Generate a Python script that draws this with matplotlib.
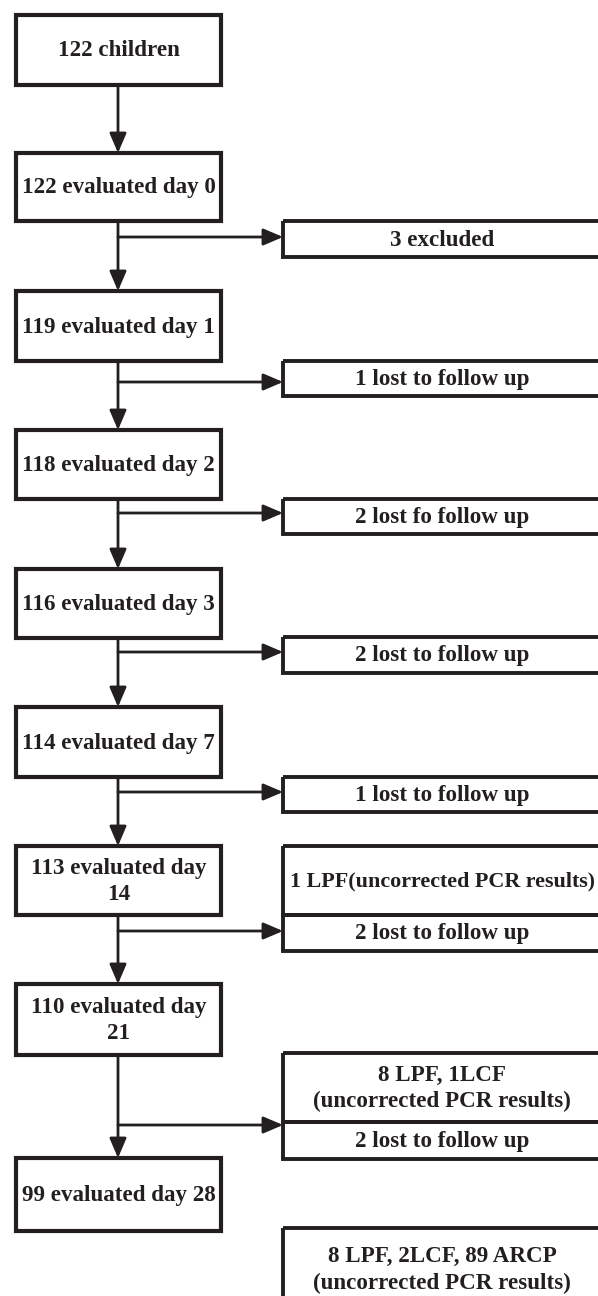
import matplotlib.pyplot as plt
from matplotlib.patches import Rectangle

# flow chart text
main_labels = ['122 children', '122 evaluated day 0', '119 evaluated day 1',
               '118 evaluated day 2', '116 evaluated day 3', '114 evaluated day 7',
               '113 evaluated day\n14', '110 evaluated day\n21', '99 evaluated day 28']
side_labels = ['3 excluded', '1 lost to follow up', '2 lost fo follow up',
               '2 lost to follow up', '1 lost to follow up',
               '1 LPF(uncorrected PCR results)', '2 lost to follow up',
               '8 LPF, 1LCF\n(uncorrected PCR results)', '2 lost to follow up',
               '8 LPF, 2LCF, 89 ARCP\n(uncorrected PCR results)']

# layout (pixel coords, y down)
main_top = [15, 153, 291, 430, 569, 707, 846, 984, 1158]
main_bot = [85, 221, 361, 499, 638, 777, 915, 1055, 1231]
main_x0, main_x1 = 16, 221
side_top = [221, 361, 499, 637, 777, 846, 915, 1053, 1122, 1228]
side_bot = [257, 396, 534, 673, 812, 915, 951, 1122, 1159, 1310]
side_x0, side_x1 = 283, 601
branch_y = [237, 382, 513, 652, 792, 931, 1125]   # one per gap after box 2..8

ink = '#231f20'
plt.rcParams['font.family'] = ['Liberation Serif', 'DejaVu Serif']

fig = plt.figure(figsize=(5.98, 12.96), dpi=100)
ax = fig.add_axes([0, 0, 1, 1])
ax.set_xlim(0, 598)
ax.set_ylim(1296, 0)
ax.axis('off')

def box(x0, x1, y0, y1, text, lw=3.0, fs=16.6):
    ax.add_patch(Rectangle((x0, y0), x1 - x0, y1 - y0, fill=False,
                           edgecolor=ink, lw=lw, clip_on=True))
    ax.text((x0 + x1) / 2, (y0 + y1) / 2 + 1, text, ha='center', va='center',
            fontsize=fs, fontweight='bold', color=ink, linespacing=1.35)

def arrow(x0, y0, x1, y1):
    ax.annotate('', xy=(x1, y1), xytext=(x0, y0),
                arrowprops=dict(arrowstyle='-|>,head_length=0.7,head_width=0.3',
                                lw=2.0, color=ink, shrinkA=0, shrinkB=0,
                                mutation_scale=17))

for lab, t, b in zip(main_labels, main_top, main_bot):
    box(main_x0, main_x1, t, b, lab)

for lab, t, b in zip(side_labels, side_top, side_bot):
    # the one long line is kept just inside the right edge
    fs = 15.8 if len(lab) > 26 and '\n' not in lab else 16.6
    box(side_x0, side_x1, t, b, lab, lw=2.8, fs=fs)

xc = 118
for i in range(len(main_labels) - 1):
    arrow(xc, main_bot[i], xc, main_top[i + 1])

for y in branch_y:
    arrow(xc, y, side_x0, y)

fig.savefig('out.png', dpi=100)
